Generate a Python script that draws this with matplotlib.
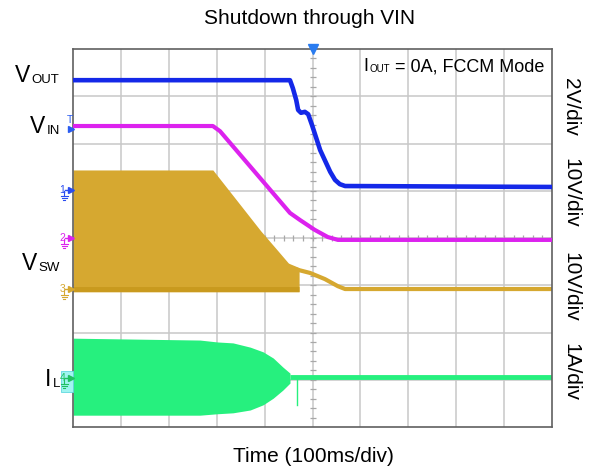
import matplotlib
matplotlib.use('Agg')
import matplotlib.pyplot as plt
from matplotlib.lines import Line2D
from matplotlib.patches import Rectangle

plt.rcParams['font.family'] = ['Liberation Sans', 'DejaVu Sans']

W, H = 593, 470

# ---- data (x in divisions of 100 ms, y in screen divisions) ----
vout_t = [0, 4.53, 4.59, 4.66, 4.70, 4.76, 4.84, 4.91, 4.99, 5.16, 5.37, 5.47, 5.57, 5.68, 10]
vout_y = [7.34, 7.34, 7.17, 6.92, 6.71, 6.65, 6.67, 6.62, 6.39, 5.86, 5.40, 5.23, 5.14, 5.10, 5.08]

vin_t = [0, 2.92, 3.07, 4.53, 4.74, 5.05, 5.32, 5.53, 10]
vin_y = [6.37, 6.37, 6.26, 4.53, 4.38, 4.17, 4.02, 3.96, 3.96]

vsw_env_t = [0, 2.92, 3.92, 4.26, 4.53, 4.72]
vsw_env_top = [5.44, 5.44, 4.15, 3.75, 3.43, 3.37]
vsw_env_bot = [2.86, 2.86, 2.86, 2.86, 2.86, 2.86]
vsw_low_t = [0, 4.72]
vsw_low_y = [2.93, 2.93]
vsw_t = [4.53, 4.72, 4.95, 5.26, 5.53, 5.68, 10]
vsw_y = [3.40, 3.32, 3.26, 3.13, 2.98, 2.92, 2.92]

il_env_t = [0, 2.65, 3.01, 3.34, 3.70, 3.97, 4.18, 4.38, 4.53]
il_env_top = [1.88, 1.84, 1.80, 1.78, 1.69, 1.59, 1.46, 1.27, 1.14]
il_env_bot = [0.25, 0.25, 0.28, 0.30, 0.36, 0.47, 0.61, 0.78, 0.93]
il_t = [4.53, 10]
il_y = [1.06, 1.06]
il_spike_t = [4.68, 4.68]
il_spike_y = [1.06, 0.47]

scale_labels = ['2V/div', '10V/div', '10V/div', '1A/div']

C_BLUE = '#1428E8'
C_MAG = '#DC22EE'
C_GOLD = '#D6A830'
C_GOLD_D = '#C99A1E'
C_GREEN = '#26F07E'

fig = plt.figure(figsize=(W / 100, H / 100), dpi=100)
L, R, T, B = 73, 552, 49, 427
ax = fig.add_axes([L / W, 1 - B / H, (R - L) / W, (B - T) / H])
ax.set_xlim(0, 10)
ax.set_ylim(0, 8)
ax.set_xticks([])
ax.set_yticks([])
for s in ax.spines.values():
    s.set_color('#606060')
    s.set_linewidth(1.2)

# grid
for i in range(1, 10):
    ax.axvline(i, color='#C8C8C8', lw=1.1, zorder=0)
for j in range(1, 8):
    ax.axhline(j, color='#C8C8C8', lw=1.1, zorder=0)
# center minor ticks
mt = [k * 0.2 for k in range(1, 50)]
ax.plot(mt, [4] * len(mt), ls='none', marker='|', ms=4.5, mew=0.9, color='#A8A8A8', zorder=0.5)
mt2 = [k * 0.2 for k in range(1, 40)]
ax.plot([5] * len(mt2), mt2, ls='none', marker='_', ms=4.5, mew=0.9, color='#A8A8A8', zorder=0.5)

# traces
ax.fill_between(vsw_env_t, vsw_env_bot, vsw_env_top, color=C_GOLD, lw=0, zorder=2)
ax.plot(vsw_low_t, vsw_low_y, color=C_GOLD_D, lw=3.5, solid_capstyle='butt', zorder=2.1)
ax.plot(vsw_t, vsw_y, color=C_GOLD, lw=3.0, zorder=2.2)

ax.fill_between(il_env_t, il_env_bot, il_env_top, color=C_GREEN, lw=0, zorder=2)
ax.plot(il_t, il_y, color=C_GREEN, lw=3.5, solid_capstyle='butt', zorder=2.2)
ax.plot(il_spike_t, il_spike_y, color=C_GREEN, lw=1.0, zorder=2.2)

ax.plot(vin_t, vin_y, color=C_MAG, lw=3.0, zorder=3)
ax.plot(vout_t, vout_y, color=C_BLUE, lw=3.3, zorder=4)

# trigger marker
ax.plot([5], [8], marker='v', ms=7, color='#2A7CF0', clip_on=False, zorder=5)


def fx(px):
    return px / W


def fy(py):
    return 1 - py / H


def sublabel(x, y, main, sub, size, subsize, dx=1, dy=1):
    t = fig.text(fx(x), fy(y), main, fontsize=size, ha='left', va='baseline', color='black')
    an = ax.annotate(sub, xy=(1, 0), xycoords=t, xytext=(dx, dy), textcoords='offset pixels',
                     fontsize=subsize, ha='left', va='bottom', color='black', annotation_clip=False)
    return t, an


sublabel(15, 82, 'V', 'OUT', 16.5, 9.5)
sublabel(30, 133, 'V', 'IN', 16.5, 9.5)
sublabel(22, 270, 'V', 'SW', 16.5, 9.5)
sublabel(45, 386, 'I', 'L', 16.5, 9.5)

# IOUT annotation
t_i, an_i = sublabel(363, 71, 'I', 'OUT', 13, 7, dx=1, dy=1.5)
ax.annotate(' = 0A, FCCM Mode', xy=(1, 0), xycoords=(an_i, t_i), xytext=(0, 0),
            textcoords='offset pixels', fontsize=13, ha='left', va='bottom', color='black',
            annotation_clip=False)

# title / axis label
fig.text(fx(310), fy(18), 'Shutdown through VIN', fontsize=15, ha='center', va='center')
fig.text(fx(313), fy(456), 'Time (100ms/div)', fontsize=15, ha='center', va='center')

# right scale labels
for txt, yc in zip(scale_labels, [107, 193, 287, 372]):
    fig.text(fx(571), fy(yc), txt, fontsize=15, rotation=-90, ha='center', va='center')


# channel markers on the left edge
def chan_marker(py, label, color, ground=True, box=None):
    if box is not None:
        fig.patches.append(Rectangle((fx(61), fy(py + 14)), (73 - 61) / W, 21 / H,
                                     transform=fig.transFigure, facecolor=box,
                                     edgecolor='#60D8E0', lw=0.6, figure=fig, zorder=1))
    fig.text(fx(65), fy(py), label, fontsize=7.5, color=color, ha='right', va='center')
    fig.lines.append(Line2D([fx(65), fx(69)], [fy(py), fy(py)], transform=fig.transFigure,
                            color=color, lw=1.0))
    fig.lines.append(Line2D([fx(70.5)], [fy(py)], transform=fig.transFigure, marker='>', ms=4.5,
                            color=color, ls='none'))
    if ground:
        gx = 64
        fig.lines.append(Line2D([fx(gx), fx(gx)], [fy(py + 1), fy(py + 6)], transform=fig.transFigure,
                                color=color, lw=0.8))
        for k, hw in enumerate([3.5, 2.5, 1.3]):
            yy = py + 6 + 2 * k
            fig.lines.append(Line2D([fx(gx - hw), fx(gx + hw)], [fy(yy), fy(yy)],
                                    transform=fig.transFigure, color=color, lw=0.8))


# trigger level marker "T"
fig.text(fx(69.5), fy(120), 'T', fontsize=7.5, color='#2A5CF0', ha='center', va='center')
fig.lines.append(Line2D([fx(70.5)], [fy(129)], transform=fig.transFigure, marker='>', ms=5,
                        color='#2A5CF0', ls='none'))

chan_marker(190, '1', '#2A4CF0')
chan_marker(238, '2', C_MAG)
chan_marker(289, '3', C_GOLD)
chan_marker(378, '4', '#20C060', box='#A0F4F0')

fig.savefig('out.png', dpi=100)
